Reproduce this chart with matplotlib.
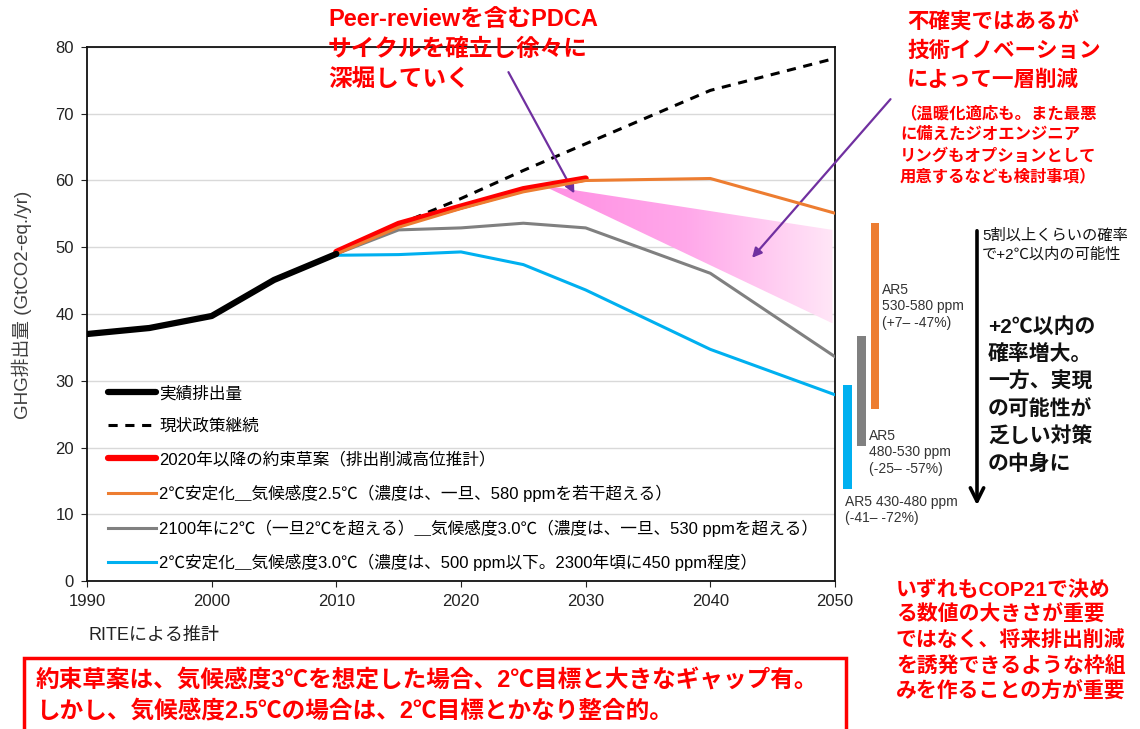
import matplotlib
matplotlib.use("Agg")
import numpy as np
import matplotlib.pyplot as plt
from matplotlib.patches import Rectangle, Polygon, FancyArrowPatch
from matplotlib.colors import LinearSegmentedColormap

plt.rcParams['font.family'] = ['Liberation Sans', 'Noto Sans CJK JP', 'DejaVu Sans']

# data
hist_years = [1990, 1995, 2000, 2005, 2010]
hist_vals = [37.0, 37.9, 39.7, 45.1, 49.0]

bau_years = [2010, 2015, 2020, 2025, 2030, 2040, 2050]
bau_vals = [49.0, 53.4, 57.3, 61.5, 65.5, 73.5, 78.3]

pledge_years = [2010, 2015, 2020, 2025, 2030]
pledge_vals = [49.3, 53.5, 56.1, 58.7, 60.3]

s25_years = [2010, 2015, 2020, 2025, 2030, 2040, 2050]
s25_vals = [49.0, 53.0, 55.8, 58.3, 60.0, 60.3, 55.1]

s2100_years = [2010, 2015, 2020, 2025, 2030, 2040, 2050]
s2100_vals = [49.0, 52.6, 52.9, 53.6, 52.9, 46.1, 33.6]

s30_years = [2010, 2015, 2020, 2025, 2030, 2040, 2050]
s30_vals = [48.8, 48.9, 49.3, 47.4, 43.6, 34.7, 27.9]

band_x = [2026.5, 2049.8]
band_top = [59.3, 52.6]
band_bot = [59.3, 38.6]

# AR5 ranges (lo, hi)
ar5_x = [2051.0, 2052.1, 2053.2]
ar5_lo = [13.8, 20.2, 25.8]
ar5_hi = [29.3, 36.7, 53.6]
ar5_col = ['#00b0f0', '#808080', '#ed7d31']

labels = ['実績排出量', '現状政策継続', '2020年以降の約束草案（排出削減高位推計）',
          '2℃安定化＿気候感度2.5℃（濃度は、一旦、580 ppmを若干超える）',
          '2100年に2℃（一旦2℃を超える）＿気候感度3.0℃（濃度は、一旦、530 ppmを超える）',
          '2℃安定化＿気候感度3.0℃（濃度は、500 ppm以下。2300年頃に450 ppm程度）']

W, H = 1140, 729
def fp(x, y):
    return x / W, 1 - y / H

fig = plt.figure(figsize=(11.4, 7.29), dpi=100)
ax = fig.add_axes([87 / W, 1 - 581 / H, (835 - 87) / W, (581 - 47) / H])

ax.set_xlim(1990, 2050)
ax.set_ylim(0, 80)
ax.set_xticks(range(1990, 2051, 10))
ax.set_yticks(range(0, 81, 10))
ax.yaxis.grid(True, color='#d9d9d9', lw=1)
ax.set_axisbelow(True)
ax.tick_params(direction='out', length=4.5, labelsize=12, colors='#222222', pad=5)
for s in ax.spines.values():
    s.set_linewidth(1.3)
    s.set_color('#111111')
fig.text(*fp(22, 305), 'GHG排出量 (GtCO2-eq./yr)', fontsize=13.5, color='#404040',
         rotation=90, ha='center', va='center')

# gradient band
poly = Polygon(list(zip(band_x, band_top)) + list(zip(band_x[::-1], band_bot[::-1])),
               closed=True, facecolor='none', edgecolor='none')
ax.add_patch(poly)
cmap = LinearSegmentedColormap.from_list('pk', ['#ff8fe3', '#ffa8ea', '#ffe6f7'])
grad = np.linspace(0, 1, 256).reshape(1, -1)
im = ax.imshow(grad, cmap=cmap, aspect='auto',
               extent=[band_x[0], band_x[1], min(band_bot), max(band_top)], zorder=1)
im.set_clip_path(poly)

h1, = ax.plot(hist_years, hist_vals, color='black', lw=4.5, solid_capstyle='round', zorder=5)
h2, = ax.plot(bau_years, bau_vals, color='black', lw=2.2, ls=(0, (3, 2.5)), zorder=3)
h3, = ax.plot(pledge_years, pledge_vals, color='#ff0000', lw=4.5, solid_capstyle='round', zorder=4)
h4, = ax.plot(s25_years, s25_vals, color='#ed7d31', lw=2.2, zorder=4)
h5, = ax.plot(s2100_years, s2100_vals, color='#808080', lw=2.2, zorder=3)
h6, = ax.plot(s30_years, s30_vals, color='#00b0f0', lw=2.2, zorder=3)

leg = ax.legend([h1, h2, h3, h4, h5, h6], labels, loc='upper left',
                bbox_to_anchor=(0.019, 0.378), frameon=False, fontsize=12,
                handlelength=2.9, handletextpad=0.18, labelspacing=1.04,
                borderaxespad=0)

# AR5 bars outside the axes
for x, lo, hi, c in zip(ar5_x, ar5_lo, ar5_hi, ar5_col):
    ax.bar(x, hi - lo, bottom=lo, width=0.7, color=c, clip_on=False, zorder=2)

# arrows
purple = '#7030a0'
ax.annotate('', xy=(2029.2, 57.7), xytext=(2023.7, 76.6),
            arrowprops=dict(arrowstyle='-|>', color=purple, lw=1.6, mutation_scale=14),
            annotation_clip=False)
ax.annotate('', xy=(2043.2, 48.1), xytext=(2054.6, 72.5),
            arrowprops=dict(arrowstyle='-|>', color=purple, lw=1.6, mutation_scale=14),
            annotation_clip=False)

red = '#ff0000'
fig.text(*fp(328, 8), 'Peer-reviewを含むPDCA\nサイクルを確立し徐々に\n深堀していく',
         color=red, fontsize=17, fontweight='bold', va='top', linespacing=1.40)
fig.text(*fp(907, 13), '不確実ではあるが\n技術イノベーション\nによって一層削減',
         color=red, fontsize=15.5, fontweight='bold', va='top', linespacing=1.45)
fig.text(*fp(900, 106), '（温暖化適応も。また最悪\nに備えたジオエンジニア\nリングもオプションとして\n用意するなども検討事項）',
         color=red, fontsize=11.8, fontweight='bold', va='top', linespacing=1.43)

# black arrow on the right
fig.add_artist(FancyArrowPatch(fp(977, 228), fp(977, 508),
               transform=fig.transFigure, arrowstyle='->', mutation_scale=24,
               lw=2.6, color='black'))
fig.text(*fp(982, 228), '5割以上くらいの確率\nで+2℃以内の可能性', fontsize=11,
         va='top', linespacing=1.45, color='#111111')
fig.text(*fp(988, 317), '+2℃以内の\n確率増大。\n一方、実現\nの可能性が\n乏しい対策\nの中身に',
         fontsize=15, fontweight='bold', va='top', linespacing=1.46, color='#111111')

fig.text(*fp(882, 283), 'AR5\n530-580 ppm\n(+7– -47%)', fontsize=10, va='top',
         linespacing=1.22, color='#333333')
fig.text(*fp(869, 429), 'AR5\n480-530 ppm\n(-25– -57%)', fontsize=10, va='top',
         linespacing=1.22, color='#333333')
fig.text(*fp(845, 495), 'AR5 430-480 ppm\n(-41– -72%)', fontsize=10, va='top',
         linespacing=1.22, color='#333333')

fig.text(*fp(88, 635), 'RITEによる推計', fontsize=13, va='center', color='#222222')

fig.add_artist(Rectangle(fp(24, 745), (846 - 24) / W, (745 - 658) / H,
                         transform=fig.transFigure, fill=False, edgecolor=red, lw=2.5))
fig.text(*fp(36, 669), '約束草案は、気候感度3℃を想定した場合、2℃目標と大きなギャップ有。\nしかし、気候感度2.5℃の場合は、2℃目標とかなり整合的。',
         color=red, fontsize=17, fontweight='bold', va='top', linespacing=1.42)

fig.text(*fp(896, 580), 'いずれもCOP21で決め\nる数値の大きさが重要\nではなく、将来排出削減\nを誘発できるような枠組\nみを作ることの方が重要',
         color=red, fontsize=15, fontweight='bold', va='top', linespacing=1.32)

fig.savefig('out.png', dpi=100)
